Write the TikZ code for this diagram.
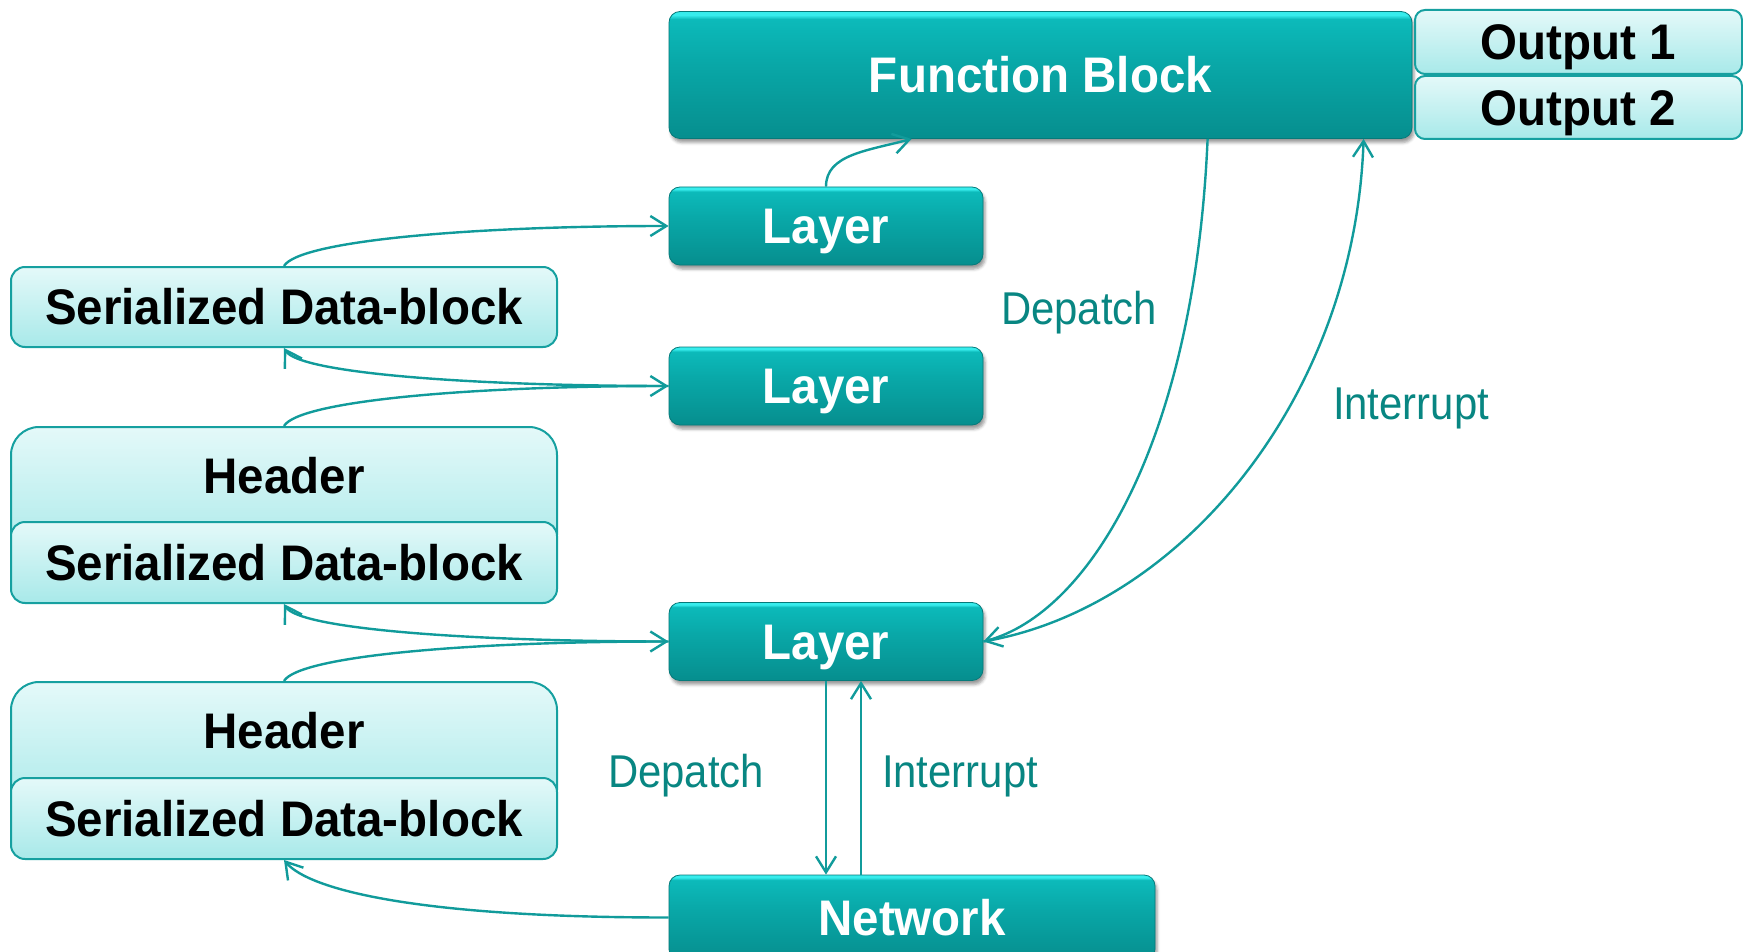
\documentclass[tikz,border=0pt]{standalone}
\usepackage{fontspec}
\usetikzlibrary{arrows.meta,calc,shadows.blur}
\newfontfamily\boxfont[FakeStretch=0.95]{Liberation Sans}
\newfontfamily\labfont[FakeStretch=0.91]{Liberation Sans}
\definecolor{tbot}{RGB}{6,142,142}
\definecolor{tmid}{RGB}{9,168,168}
\definecolor{ttop}{RGB}{12,186,186}
\definecolor{thl}{RGB}{55,236,236}
\definecolor{tedge}{RGB}{6,122,122}
\definecolor{ltop}{RGB}{228,249,249}
\definecolor{lbot}{RGB}{168,233,233}
\definecolor{lborder}{RGB}{22,160,160}
\definecolor{lineclr}{RGB}{17,155,155}
\definecolor{labclr}{RGB}{8,134,130}
\pgfdeclareverticalshading{darkshade}{100bp}{color(0bp)=(tbot); color(25bp)=(tbot); color(55bp)=(tmid); color(72bp)=(ttop); color(73.6bp)=(thl); color(75bp)=(thl); color(100bp)=(thl)}
\begin{document}
\begin{tikzpicture}[x=1pt,y=-1pt,
  bfont/.style={font=\boxfont\bfseries\fontsize{50pt}{60pt}\selectfont, text height=35.8pt, text depth=0pt, inner sep=0pt},
  darkbox/.style={bfont, rectangle, rounded corners=11pt, shading=darkshade, draw=tedge, line width=0.8pt,
    blur shadow={shadow xshift=2pt, shadow yshift=-4pt, shadow blur radius=3pt, shadow opacity=40}, text=white},
  lightbox/.style={bfont, rectangle, rounded corners=14pt, top color=ltop, bottom color=lbot, draw=lborder, line width=2pt, text=black},
  headbox/.style={lightbox, rounded corners=28pt, text depth=38pt},
  lab/.style={font=\labfont\fontsize{46pt}{54pt}\selectfont, text=labclr, inner sep=0pt, anchor=base},
  conn/.style={draw=lineclr, line width=2.4pt, -{Straight Barb[length=16pt,width=20pt]}}
]
\path[use as bounding box] (0,0) rectangle (1743,952);

% dark boxes
\node[darkbox, minimum width=743pt, minimum height=127pt] (fb) at (1040.5,75) {Function Block};
\node[darkbox, minimum width=314pt, minimum height=78pt] (l1) at (826,226) {Layer};
\node[darkbox, minimum width=314pt, minimum height=78pt] (l2) at (826,386) {Layer};
\node[darkbox, minimum width=314pt, minimum height=78pt] (l3) at (826,641.5) {Layer};
\node[darkbox, minimum width=486pt, minimum height=85pt] (net) at (912,917.5) {Network};

% outputs
\node[lightbox, rounded corners=10pt, minimum width=327pt, minimum height=64pt] (o1) at (1578.5,42) {Output 1};
\node[lightbox, rounded corners=10pt, minimum width=327pt, minimum height=63pt] (o2) at (1578.5,107.5) {Output 2};

% left stack
\node[lightbox, minimum width=546pt, minimum height=80pt] (s1) at (284,307) {Serialized Data-block};
\node[headbox, minimum width=546pt, minimum height=136pt] (h1) at (284,495) {Header};
\node[lightbox, minimum width=546pt, minimum height=81pt] (s2) at (284,562.5) {Serialized Data-block};
\node[headbox, minimum width=546pt, minimum height=136pt] (h2) at (284,750) {Header};
\node[lightbox, minimum width=546pt, minimum height=81pt] (s3) at (284,818.5) {Serialized Data-block};

% connector points
\coordinate (fbin) at ($(fb.south west)+(243,0)$);
\coordinate (fbdep) at ($(fb.south west)+(539,0)$);
\coordinate (fbint) at ($(fb.south west)+(695,0)$);

% left connectors
\draw[conn] (s1.north) .. controls +(15,-25) and +(-200,0) .. (l1.west);
\draw[conn] (l2.west) .. controls +(-200,0) and +(15,25) .. (s1.south);
\draw[conn] (h1.north) .. controls +(15,-25) and +(-200,0) .. (l2.west);
\draw[conn] (l3.west) .. controls +(-200,0) and +(15,25) .. (s2.south);
\draw[conn] (h2.north) .. controls +(15,-25) and +(-200,0) .. (l3.west);
\draw[conn] (net.west) .. controls +(-250,0) and +(25,30) .. (s3.south);

% layer1 to function block
\draw[conn] (l1.north) .. controls +(0,-32) and +(-45,12) .. (fbin);

% depatch / interrupt
\draw[conn] (fbdep) .. controls +(-13,302) and +(106,-28) .. (l3.east);
\draw[conn] (l3.east) .. controls +(196,-33) and +(-9,260) .. (fbint);

% layer3 <-> network
\draw[conn] (l3.south) -- (l3.south |- net.north);
\draw[conn] ($(net.north -| l3.south)+(35,0)$) -- ($(l3.south)+(35,0)$);

% labels
\node[lab] (dep1) at (1079,324) {Depatch};
\node[lab] (int1) at (1411,419) {Interrupt};
\node[lab] (dep2) at (686,787) {Depatch};
\node[lab] (int2) at (960,787) {Interrupt};
\end{tikzpicture}
\end{document}
